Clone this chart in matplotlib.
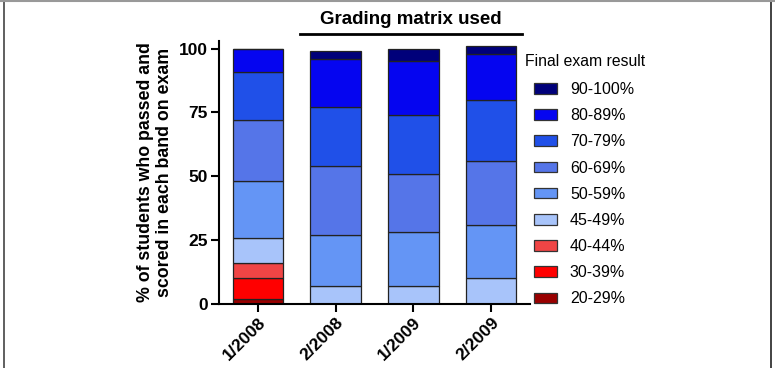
import numpy as np
import matplotlib
matplotlib.use("Agg")
import matplotlib.pyplot as plt
from matplotlib.patches import Patch
from matplotlib.lines import Line2D

plt.rcParams['font.family'] = ['Liberation Sans', 'DejaVu Sans']

semesters = ["1/2008", "2/2008", "1/2009", "2/2009"]
bands = ["20-29%", "30-39%", "40-44%", "45-49%", "50-59%",
         "60-69%", "70-79%", "80-89%", "90-100%"]

# % of students in each band, per semester (bottom band first)
band_20_29 = [2, 0, 0, 0]
band_30_39 = [8, 0, 0, 0]
band_40_44 = [6, 0, 0, 0]
band_45_49 = [10, 7, 7, 10]
band_50_59 = [22, 20, 21, 21]
band_60_69 = [24, 27, 23, 25]
band_70_79 = [19, 23, 23, 24]
band_80_89 = [9, 19, 21, 18]
band_90_100 = [0, 3, 5, 3]

band_values = [band_20_29, band_30_39, band_40_44, band_45_49, band_50_59,
               band_60_69, band_70_79, band_80_89, band_90_100]
colors = ["#990000", "#ff0000", "#f04545", "#a8c4fa", "#6495f5",
          "#5575e8", "#2050e8", "#0505f0", "#00007a"]

fig = plt.figure(figsize=(7.75, 3.68), dpi=100)
ax = fig.add_axes([0.2826, 0.174, 0.4014, 0.7146])

x = np.arange(len(semesters))
bottom = np.zeros(len(semesters))
for vals, c in zip(band_values, colors):
    vals = np.array(vals, dtype=float)
    ax.bar(x, vals, width=0.65, bottom=bottom, color=c,
           edgecolor="#222222", linewidth=0.9)
    bottom += vals

ax.set_xlim(-0.5, 3.5)
ax.set_ylim(0, 103)
ax.set_yticks([0, 25, 50, 75, 100])
ax.set_xticks(x)
ax.set_xticklabels(semesters, rotation=45, ha="right", rotation_mode="anchor",
                   fontsize=12.5, fontweight="bold")
for lab in ax.get_yticklabels():
    lab.set_fontsize(12.5)
    lab.set_fontweight("bold")
ax.spines["top"].set_visible(False)
ax.spines["right"].set_visible(False)
ax.spines["left"].set_linewidth(1.5)
ax.spines["bottom"].set_linewidth(1.5)
ax.tick_params(width=1.5, length=6, pad=2)
ax.set_ylabel("% of students who passed and\nscored in each band on exam",
              fontsize=12.8, fontweight="bold", labelpad=4, linespacing=1.15)

# legend, top band first (title drawn separately so the keys sit indented)
handles = [Patch(facecolor=c, edgecolor="#333333", linewidth=0.9, label=b)
           for b, c in zip(bands[::-1], colors[::-1])]
fig.text(525 / 775, 1 - 62 / 368, "Final exam result", ha="left", va="center",
         fontsize=11.3)
fig.legend(handles=handles, loc="upper left",
           bbox_to_anchor=(534 / 775, 1 - 82 / 368), frameon=False,
           fontsize=11.5, handlelength=1.45, handleheight=0.65,
           labelspacing=0.7, handletextpad=0.8, borderaxespad=0,
           borderpad=0)

# header over the grading-matrix semesters
fig.add_artist(Line2D([300 / 775, 522 / 775], [1 - 34 / 368, 1 - 34 / 368],
                      color="black", linewidth=2))
fig.text(411 / 775, 1 - 20 / 368, "Grading matrix used", ha="center",
         va="center", fontsize=13.5, fontweight="bold")

# thin frame around the picture
fig.add_artist(Line2D([4 / 775, 4 / 775], [0, 1], color="#444444", linewidth=1.2))
fig.add_artist(Line2D([771 / 775, 771 / 775], [0, 1], color="#222222", linewidth=1.2))
fig.add_artist(Line2D([0, 1], [0.998, 0.998], color="#999999", linewidth=1.5))

fig.savefig("out.png", dpi=100)
